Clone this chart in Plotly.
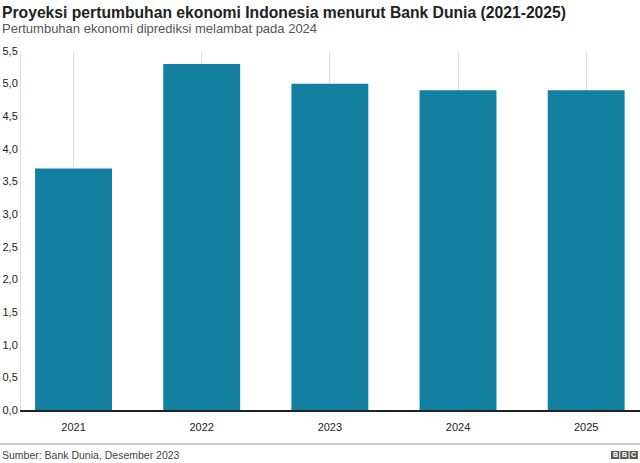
import plotly.graph_objects as go

years = ["2021", "2022", "2023", "2024", "2025"]
growth = [3.7, 5.3, 5.0, 4.9, 4.9]
y_ticks = [0.0, 0.5, 1.0, 1.5, 2.0, 2.5, 3.0, 3.5, 4.0, 4.5, 5.0, 5.5]

W, H = 640, 463
L, R, T, B = 21, 0, 51, 53

fig = go.Figure(go.Bar(x=years, y=growth, marker_color="#1380A1",
                       marker_line_width=0, width=0.6, hoverinfo="skip"))

fig.update_layout(
    width=W, height=H,
    margin=dict(l=L, r=R, t=T, b=B, pad=0),
    paper_bgcolor="white", plot_bgcolor="white",
    separators=",.",
    font=dict(family="Liberation Sans, Arial, sans-serif", color="#222222", size=11),
    showlegend=False,
    xaxis=dict(range=[-0.41, 4.42], showgrid=True, gridcolor="#dddddd", gridwidth=1,
               showline=True, linecolor="#222222", linewidth=1.5,
               ticks="", tickfont=dict(size=11, color="#222222"), ticklabelstandoff=6),
    yaxis=dict(range=[0, 5.5], tickvals=y_ticks, tickformat=".1f", showgrid=False,
               zeroline=False, showline=True, linecolor="#dddddd", linewidth=1,
               ticks="", tickfont=dict(size=11, color="#222222"), ticklabelstandoff=0),
)

def px(x):
    return (x - L) / (W - L - R)

def py(y_top):
    return (H - y_top - B) / (H - T - B)

ann = [
    dict(text="<b>Proyeksi pertumbuhan ekonomi Indonesia menurut Bank Dunia (2021-2025)</b>",
         x=0, y=12, font=dict(size=15.7, color="#222222")),
    dict(text="Pertumbuhan ekonomi diprediksi melambat pada 2024",
         x=0, y=28, font=dict(size=13, color="#555555")),
    dict(text="Sumber: Bank Dunia, Desember 2023",
         x=0, y=455, font=dict(size=10.5, color="#444444")),
]
for a in ann:
    fig.add_annotation(xref="paper", yref="paper", x=px(a["x"]), y=py(a["y"]),
                       text=a["text"], showarrow=False,
                       xanchor="left", yanchor="middle", font=a["font"])

# footer line
fig.add_shape(type="line", xref="paper", yref="paper",
              x0=px(0), x1=1, y0=py(444), y1=py(444),
              line=dict(color="#cccccc", width=2))

# BBC blocks
for i, letter in enumerate("BBC"):
    x0 = 611 + i * 9.3
    x1 = x0 + 8.3
    fig.add_shape(type="rect", xref="paper", yref="paper",
                  x0=px(x0), x1=px(x1), y0=py(459), y1=py(451),
                  fillcolor="#5a5a5a", line_width=0)
    fig.add_annotation(xref="paper", yref="paper", x=px((x0 + x1) / 2),
                       y=py(455), text="<b>%s</b>" % letter,
                       showarrow=False, xanchor="center", yanchor="middle",
                       font=dict(size=7, color="white"))

fig.write_html("out.html", config={"displayModeBar": False},
               post_script="document.body.style.margin='0';document.body.style.overflow='hidden';")
